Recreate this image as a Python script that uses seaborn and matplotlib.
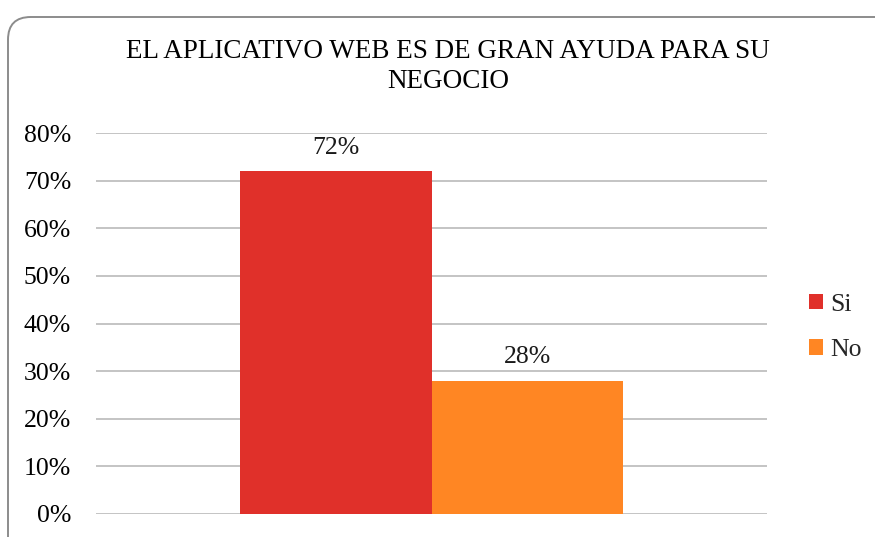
import matplotlib
matplotlib.use("Agg")
import matplotlib.pyplot as plt
from matplotlib.patches import FancyBboxPatch
from matplotlib.ticker import PercentFormatter
import seaborn as sns
import pandas as pd

title = "EL APLICATIVO WEB ES DE GRAN AYUDA PARA SU\nNEGOCIO"
answers = ["Si", "No"]
shares = [0.72, 0.28]
labels = ["72%", "28%"]
yticks = [0, 0.1, 0.2, 0.3, 0.4, 0.5, 0.6, 0.7, 0.8]
colors = ["#E0302A", "#FF8623"]

sns.set_theme(style="white")
plt.rcParams["font.family"] = ["Liberation Serif", "DejaVu Serif"]

df = pd.DataFrame({"grupo": [""] * len(answers), "respuesta": answers, "valor": shares})

fig = plt.figure(figsize=(8.75, 5.37), dpi=100)
ax = fig.add_axes([96 / 875, 1 - 514 / 537, (767 - 96) / 875, (514 - 133) / 537])

sns.barplot(data=df, x="grupo", y="valor", hue="respuesta", hue_order=answers,
            palette=colors, width=0.572, saturation=1, linewidth=0,
            ax=ax, legend=True)

ax.set_ylim(0, 0.8)
ax.set_xlim(-0.5, 0.5)
ax.set_yticks(yticks)
ax.yaxis.set_major_formatter(PercentFormatter(1.0, decimals=0))
ax.tick_params(axis="y", labelsize=18.5, pad=18, length=0, labelcolor="black")
ax.set_xticks([])
ax.set_xlabel("")
ax.set_ylabel("")
ax.grid(axis="y", color="#BFBFBF", linewidth=1.3)
ax.set_axisbelow(True)
for s in ax.spines.values():
    s.set_visible(False)

for cont, lab in zip(ax.containers, labels):
    ax.bar_label(cont, labels=[lab], padding=9, fontsize=18.5, color="#1a1a1a")

handles, _ = ax.get_legend_handles_labels()
leg = ax.legend(handles, answers, loc="center left", bbox_to_anchor=(1.047, 0.49),
                frameon=False, fontsize=18.5, handlelength=0.55, handleheight=0.55,
                handletextpad=0.3, labelspacing=0.9, borderaxespad=0)

fig.text(448 / 875, 1 - 66.5 / 537, title, ha="center", va="center",
         fontsize=19.5, linespacing=1.22, color="black")

frame = FancyBboxPatch((8 / 875, -0.1), 1.1, (537 - 17) / 537 + 0.1,
                       boxstyle="round,pad=0,rounding_size=0.026",
                       transform=fig.transFigure, facecolor="none",
                       edgecolor="#8C8C8C", linewidth=1.4, clip_on=False,
                       mutation_aspect=875 / 537)
fig.patches.append(frame)

fig.savefig("out.png", dpi=100)
